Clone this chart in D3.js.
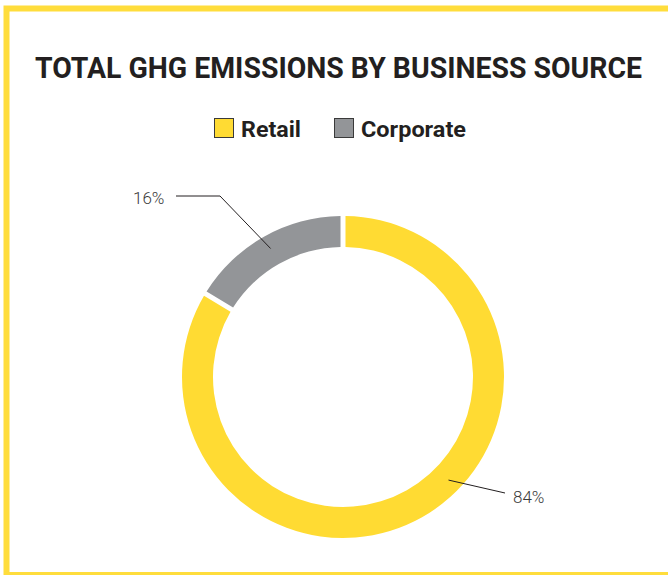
<!DOCTYPE html>
<html>
<head>
<meta charset="utf-8">
<script src="https://cdn.jsdelivr.net/npm/d3@7"></script>
<style>
  body { margin: 0; background: #fff; }
  svg { display: block; }
</style>
</head>
<body>
<div id="chart"></div>
<script>

var categories = ["Retail", "Corporate"];
var values     = [84, 16];
var colours    = ["#FFDB33", "#939598"];
var labels     = ["84%", "16%"];

var width  = 668;
var height = 575;

var svg = d3.select("#chart").append("svg")
    .attr("width",  width)
    .attr("height", height);

// yellow frame (cropped on the right)
svg.append("path")
    .attr("d", "M6.5,575 V8.5 H668")
    .attr("fill", "none")
    .attr("stroke", "#FFDD3C")
    .attr("stroke-width", 6);
svg.append("rect")
    .attr("x", 4).attr("y", 572)
    .attr("width", 664).attr("height", 3)
    .attr("fill", "#FFDD3C");

// title
svg.append("text")
    .attr("x", 35)
    .attr("y", 78)
    .attr("font-family", "Roboto, sans-serif")
    .attr("font-weight", 700)
    .attr("font-size", 29.5)
    .attr("fill", "#231F20")
    .attr("textLength", 607)
    .attr("lengthAdjust", "spacingAndGlyphs")
    .text("TOTAL GHG EMISSIONS BY BUSINESS SOURCE");

// legend
var legendX   = [214, 334];
var legendLen = [60, 105];
var legend = svg.selectAll(".legend")
    .data(categories)
    .enter().append("g")
    .attr("class", "legend")
    .attr("transform", function(d, i) { return "translate(" + legendX[i] + ",118)"; });

legend.append("rect")
    .attr("x", 0.5).attr("y", 0.5)
    .attr("width", 19).attr("height", 19)
    .attr("fill", function(d, i) { return colours[i]; })
    .attr("stroke", "#3a3a3a")
    .attr("stroke-width", 1);

legend.append("text")
    .attr("x", 27)
    .attr("y", 18.5)
    .attr("font-family", "Roboto, sans-serif")
    .attr("font-weight", 700)
    .attr("font-size", 22)
    .attr("fill", "#231F20")
    .attr("textLength", function(d, i) { return legendLen[i]; })
    .attr("lengthAdjust", "spacingAndGlyphs")
    .text(function(d) { return d; });

// donut
var cx = 343, cy = 377;
var outerR = 161, innerR = 130;

var pie = d3.pie()
    .sort(null)
    .value(function(d) { return d; })
    .startAngle(0)
    .endAngle(2 * Math.PI)
    .padAngle(5 / outerR);

var arc = d3.arc()
    .innerRadius(innerR)
    .outerRadius(outerR)
    .padRadius(outerR);

var g = svg.append("g").attr("transform", "translate(" + cx + "," + cy + ")");

var arcs = pie(values);

g.selectAll("path.slice")
    .data(arcs)
    .enter().append("path")
    .attr("class", "slice")
    .attr("d", arc)
    .attr("fill", function(d, i) { return colours[i]; });

// leader lines + labels
var midR = (innerR + outerR) / 2 + 2;
var mid = d3.arc().innerRadius(midR).outerRadius(midR);
function at(a) { return mid.centroid({startAngle: a, endAngle: a}); }

var aR = arcs[0].startAngle + 0.446 * (arcs[0].endAngle - arcs[0].startAngle);
var aC = (arcs[1].startAngle + arcs[1].endAngle) / 2;
var pR = at(aR);
var pC = at(aC);

g.append("polyline")
    .attr("points", [pR, [162, 116]].join(" "))
    .attr("fill", "none")
    .attr("stroke", "#231F20")
    .attr("stroke-width", 1);

g.append("polyline")
    .attr("points", [pC, [-123, -181], [-167, -181]].join(" "))
    .attr("fill", "none")
    .attr("stroke", "#231F20")
    .attr("stroke-width", 1);

g.append("text")
    .attr("x", 170).attr("y", 126)
    .attr("font-family", "Roboto, sans-serif")
    .attr("font-weight", 300)
    .attr("font-size", 17)
    .attr("fill", "#3a3a3a")
    .text(labels[0]);

g.append("text")
    .attr("x", -210).attr("y", -173)
    .attr("font-family", "Roboto, sans-serif")
    .attr("font-weight", 300)
    .attr("font-size", 17)
    .attr("fill", "#3a3a3a")
    .text(labels[1]);

</script>
</body>
</html>
